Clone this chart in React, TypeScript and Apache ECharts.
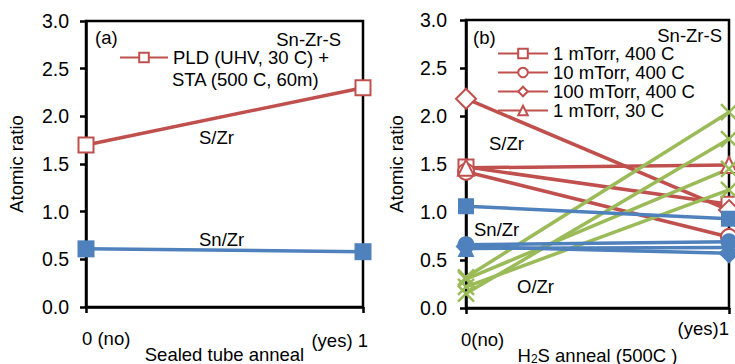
import { useEffect, useRef } from 'react';
import * as echarts from 'echarts';

const FONT = '"Liberation Sans", Arial, sans-serif';
const RED = '#C0504D';
const BLUE = '#4F81BD';
const GREEN = '#9BBB59';

// x positions (0 = no anneal, 1 = anneal)
const xPositions = [0, 1];
const xTickLabelsA = ['0 (no)', '(yes) 1'];
const xTickLabelsB = ['0(no)', '(yes)1'];

// Panel (a)
const aLegendName = 'PLD (UHV, 30 C) + STA (500 C, 60m)';
const aSZr = [1.7, 2.3];
const aSnZr = [0.61, 0.58];

// Panel (b)
const bLegendNames = ['1 mTorr, 400 C', '10 mTorr, 400 C', '100 mTorr, 400 C', '1 mTorr, 30 C'];
const bSymbols = ['rect', 'circle', 'diamond', 'triangle'];
const bSymbolSizes = [15, 16, 20, 16];
const bSZr = [[1.47, 1.08], [1.42, 0.74], [2.18, 1.02], [1.46, 1.49]];
const bSnZr = [[1.06, 0.93], [0.66, 0.69], [0.64, 0.57], [0.62, 0.63]];
const bOZr = [[0.32, 2.04], [0.15, 1.76], [0.3, 1.45], [0.22, 1.23]];

const X_SYMBOL = 'path://M0 0L10 10M10 0L0 10';
const FS = 18.5;
const TICK_FS = 19.5;

function pts(vals: number[]) {
  return xPositions.map((x, i) => [x, vals[i]]);
}

export default function App() {
  const ref = useRef<HTMLDivElement>(null);
  useEffect(() => {
    if (!ref.current) return;
    const chart = echarts.init(ref.current, null, { renderer: 'svg' });
    const txt = { fontFamily: FONT, fontSize: FS, color: '#000' };

    const axisX = (gi: number, name: any, gap: number, rich?: any) => ({
      gridIndex: gi,
      type: 'value',
      min: 0,
      max: 1,
      interval: 1,
      axisLine: { show: true, lineStyle: { color: '#000', width: 2.5 } },
      axisTick: { show: true, length: 6, lineStyle: { color: '#000', width: 2.5 } },
      axisLabel: { show: false },
      splitLine: { show: false },
      name,
      nameLocation: 'middle',
      nameGap: gap,
      nameTextStyle: { ...txt, rich },
    });
    const axisY = (gi: number, margin: number, gap: number) => ({
      gridIndex: gi,
      type: 'value',
      min: 0,
      max: 3,
      interval: 0.5,
      axisLine: { show: true, lineStyle: { color: '#000', width: 2.5 } },
      axisTick: { show: true, length: 6, lineStyle: { color: '#000', width: 2.5 } },
      axisLabel: { ...txt, fontSize: TICK_FS, margin, formatter: (v: number) => v.toFixed(1) },
      splitLine: { show: false },
      name: 'Atomic ratio',
      nameLocation: 'middle',
      nameGap: gap,
      nameTextStyle: txt,
    });

    const series: any[] = [];
    // Panel (a)
    series.push({
      name: aLegendName, type: 'line', xAxisIndex: 0, yAxisIndex: 0, clip: false,
      data: pts(aSZr), symbol: 'rect', symbolSize: 15,
      lineStyle: { color: RED, width: 3.5 },
      itemStyle: { color: '#fff', borderColor: RED, borderWidth: 2 },
    });
    series.push({
      name: 'a Sn/Zr', type: 'line', xAxisIndex: 0, yAxisIndex: 0, clip: false,
      data: pts(aSnZr), symbol: 'rect', symbolSize: 17,
      lineStyle: { color: BLUE, width: 3.5 },
      itemStyle: { color: BLUE, borderColor: BLUE, borderWidth: 0 },
    });
    // Panel (b)
    bLegendNames.forEach((nm, i) => {
      series.push({
        name: nm, type: 'line', xAxisIndex: 1, yAxisIndex: 1, clip: false,
        data: pts(bSZr[i]), symbol: bSymbols[i], symbolSize: bSymbolSizes[i],
        lineStyle: { color: RED, width: 3.5 },
        itemStyle: { color: '#fff', borderColor: RED, borderWidth: 2 },
      });
    });
    bLegendNames.forEach((nm, i) => {
      series.push({
        name: nm + ' O/Zr', type: 'line', xAxisIndex: 1, yAxisIndex: 1, clip: false,
        data: pts(bOZr[i]), symbol: X_SYMBOL, symbolSize: 16,
        lineStyle: { color: GREEN, width: 3.5 },
        itemStyle: { color: 'rgba(0,0,0,0)', borderColor: GREEN, borderWidth: 2.5 },
      });
    });
    bLegendNames.forEach((nm, i) => {
      series.push({
        name: nm + ' Sn/Zr', type: 'line', xAxisIndex: 1, yAxisIndex: 1, clip: false,
        data: pts(bSnZr[i]), symbol: bSymbols[i], symbolSize: bSymbolSizes[i] + 1,
        lineStyle: { color: BLUE, width: 3.5 },
        itemStyle: { color: BLUE, borderWidth: 0 },
      });
    });

    const gtext = (text: string, x: number, y: number, align = 'left') => ({
      type: 'text', x, y, silent: true,
      style: { text, fontFamily: FONT, fontSize: FS, lineHeight: 15, fill: '#000', align, verticalAlign: 'middle' },
    });

    chart.setOption({
      animation: false,
      backgroundColor: '#fff',
      grid: [
        { left: 86, top: 21, width: 277, height: 286, show: true, borderColor: '#000', borderWidth: 2.5, outerBoundsMode: 'none', containLabel: false },
        { left: 466, top: 20, width: 263, height: 288, show: true, borderColor: '#000', borderWidth: 2.5, outerBoundsMode: 'none', containLabel: false },
      ],
      xAxis: [
        axisX(0, 'Sealed tube anneal', 38),
        axisX(1, '{n|H}{s|2}{n|S anneal (500C )}', 37, {
          n: { fontFamily: FONT, fontSize: FS, color: '#000', lineHeight: 20 },
          s: { fontFamily: FONT, fontSize: 12, color: '#000', lineHeight: 10, verticalAlign: 'bottom' },
        }),
      ],
      yAxis: [axisY(0, 17, 60), axisY(1, 19, 60)],
      legend: [
        {
          data: [aLegendName], left: 119, top: 48, padding: 0, itemWidth: 48, itemHeight: 12,
          formatter: () => 'PLD (UHV, 30 C) +',
          textStyle: { ...txt, lineHeight: 14 },
          selectedMode: false,
        },
        {
          data: bLegendNames, orient: 'vertical', left: 497, top: 44, padding: 0, itemGap: 0,
          itemWidth: 50, itemHeight: 12,
          textStyle: { ...txt, lineHeight: 18.7 },
          selectedMode: false,
        },
      ],
      graphic: [
        gtext('(a)', 95, 37),
        gtext('Sn-Zr-S', 341, 39, 'right'),
        gtext('STA (500 C, 60m)', 172, 79),
        gtext('S/Zr', 199, 137),
        gtext('Sn/Zr', 199, 239),
        gtext(xTickLabelsA[0], 82, 338),
        gtext(xTickLabelsA[1], 368, 340, 'right'),
        gtext('(b)', 473, 37),
        gtext('Sn-Zr-S', 722, 35, 'right'),
        gtext('S/Zr', 489, 143),
        gtext('Sn/Zr', 474, 229),
        gtext('O/Zr', 517, 286),
        gtext(xTickLabelsB[0], 461, 339),
        gtext(xTickLabelsB[1], 729, 328, 'right'),
      ],
      series,
    });
    return () => chart.dispose();
  }, []);
  return (
    <div
      ref={ref}
      style={{ position: 'fixed', left: 0, top: 0, width: 735, height: 364, background: '#fff' }}
    />
  );
}
